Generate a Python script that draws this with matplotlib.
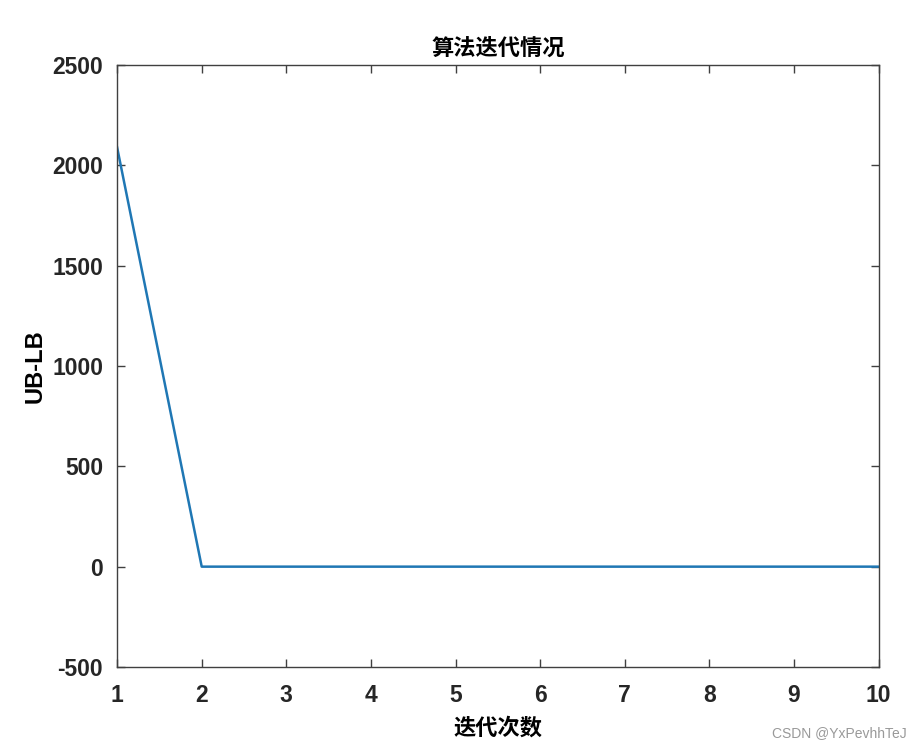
import matplotlib
matplotlib.use('Agg')
import matplotlib.pyplot as plt

plt.rcParams['font.family'] = ['Liberation Sans', 'Noto Sans CJK SC', 'DejaVu Sans']
plt.rcParams['axes.unicode_minus'] = False

# 迭代数据
iterations = [1, 2, 3, 4, 5, 6, 7, 8, 9, 10]
gap = [2090, 0, 0, 0, 0, 0, 0, 0, 0, 0]

fig = plt.figure(figsize=(9.22, 7.5), dpi=100)
ax = fig.add_axes([0.127, 0.1107, 0.826, 0.8026])

ax.plot(iterations, gap, color='#1f77b4', linewidth=1.8)

ax.set_xlim(1, 10)
ax.set_ylim(-500, 2500)
ax.set_xticks(range(1, 11))
ax.set_yticks(range(-500, 2501, 500))

ax.tick_params(direction='in', top=True, right=True, length=6, width=1,
               color='#404040', labelsize=16.5)
ax.tick_params(axis='x', pad=12)
ax.tick_params(axis='y', pad=10)
for lab in ax.get_xticklabels() + ax.get_yticklabels():
    lab.set_fontweight('bold')
    lab.set_color('#262626')
for sp in ax.spines.values():
    sp.set_color('#404040')
    sp.set_linewidth(1)

ax.set_title('算法迭代情况', fontsize=16, fontweight='bold',
             family=['Noto Sans CJK SC', 'DejaVu Sans'], pad=7)
ax.set_xlabel('迭代次数', fontsize=16, fontweight='bold',
              family=['Noto Sans CJK SC', 'DejaVu Sans'], labelpad=7)
ax.set_ylabel('UB-LB', fontsize=17, fontweight='bold', labelpad=4)

fig.text(0.983, 0.013, 'CSDN @YxPevhhTeJ', ha='right', va='bottom',
         fontsize=10, color='#999999')

fig.savefig('out.png', dpi=100)
